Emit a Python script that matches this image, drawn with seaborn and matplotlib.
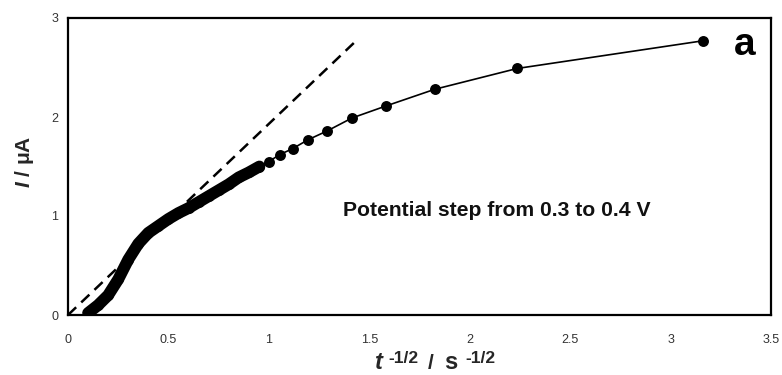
import matplotlib
matplotlib.use("Agg")
import matplotlib.pyplot as plt
import seaborn as sns
import pandas as pd

# ---- data ----
# sparse (well separated) points, t = 0.1 ... 1.1 s
x_sparse = [3.162, 2.236, 1.826, 1.581, 1.414, 1.291, 1.195, 1.118, 1.054, 1.000, 0.953]
i_sparse = [2.77, 2.49, 2.28, 2.11, 1.99, 1.86, 1.77, 1.68, 1.62, 1.55, 1.50]
# dense region (overlapping markers)
x_dense = [0.90, 0.85, 0.80, 0.75, 0.70, 0.65, 0.60, 0.55, 0.50, 0.45, 0.40,
           0.35, 0.30, 0.25, 0.20, 0.15, 0.10]
i_dense = [1.44, 1.39, 1.32, 1.26, 1.20, 1.14, 1.08, 1.03, 0.97, 0.90, 0.83,
           0.72, 0.56, 0.36, 0.20, 0.10, 0.02]
# Cottrell line (dashed)
x_fit = [0.0, 1.445]
i_fit = [0.0, 2.79]

x_ticks = [0, 0.5, 1, 1.5, 2, 2.5, 3, 3.5]
x_ticklabels = ["0", "0.5", "1", "1.5", "2", "2.5", "3", "3.5"]
y_ticks = [0, 1, 2, 3]
y_ticklabels = ["0", "1", "2", "3"]

annotation = "Potential step from 0.3 to 0.4 V"
panel = "a"

# ---- style ----
sns.set_theme(style="white")
plt.rcParams["font.family"] = ["Liberation Sans", "DejaVu Sans"]
plt.rcParams["mathtext.fontset"] = "custom"
plt.rcParams["mathtext.rm"] = "Liberation Sans:bold"
plt.rcParams["mathtext.it"] = "Liberation Sans:bold:italic"
plt.rcParams["mathtext.bf"] = "Liberation Sans:bold"

all_df = pd.DataFrame({"x": x_sparse + x_dense, "I": i_sparse + i_dense})
dense_df = pd.DataFrame({"x": [x_sparse[-1]] + x_dense, "I": [i_sparse[-1]] + i_dense})
fit_df = pd.DataFrame({"x": x_fit, "I": i_fit})

fig = plt.figure(figsize=(7.82, 3.75), dpi=100)
ax = fig.add_axes([68 / 782, 60 / 375, 703 / 782, 297 / 375])

# dashed line
sns.lineplot(data=fit_df, x="x", y="I", ax=ax, color="black", lw=1.8,
             estimator=None, sort=False, zorder=2)
ax.lines[-1].set_dashes((4.5, 2.8))
# thin connecting line
sns.lineplot(data=all_df, x="x", y="I", ax=ax, color="black", lw=1.2,
             estimator=None, sort=False, zorder=3)
# thick band for the dense region
sns.lineplot(data=dense_df, x="x", y="I", ax=ax, color="black", lw=8.5,
             estimator=None, sort=False, zorder=3,
             solid_capstyle="round", solid_joinstyle="round")
# markers
sns.scatterplot(data=all_df, x="x", y="I", ax=ax, color="black", s=62,
                edgecolor="black", linewidth=0, zorder=4)

ax.set_xlim(0, 3.5)
ax.set_ylim(0, 3)
ax.set_xticks(x_ticks)
ax.set_xticklabels(x_ticklabels)
ax.set_yticks(y_ticks)
ax.set_yticklabels(y_ticklabels)
ax.tick_params(axis="x", direction="in", length=3, width=0.8, pad=14,
               labelsize=9, labelcolor="#333333", colors="#333333")
ax.tick_params(axis="y", direction="out", length=3, width=0.8, pad=4,
               labelsize=9, labelcolor="#333333", colors="#333333")
for s in ax.spines.values():
    s.set_color("black")
    s.set_linewidth(1.6)
ax.set_xlabel("")
ax.set_ylabel("")

ax.text(1.369, 1.06, annotation, fontsize=15.2, fontweight="bold",
        ha="left", va="center", color="#111111")
ax.text(3.37, 2.73, panel, fontsize=28, fontweight="bold",
        ha="center", va="center", color="black")

# x label built from pieces: t^-1/2 / s^-1/2
base = 1 - 369 / 375
sup = 1 - 363 / 375
fig.text(375 / 782, base, "t", fontsize=17, fontweight="bold", style="italic",
         ha="left", va="baseline")
fig.text(388 / 782, sup, "-1/2", fontsize=12.5, fontweight="bold",
         ha="left", va="baseline")
fig.text(428 / 782, base, "/", fontsize=15, fontweight="bold",
         ha="left", va="baseline")
fig.text(444 / 782, base, "s", fontsize=17, fontweight="bold",
         ha="left", va="baseline")
fig.text(465 / 782, sup, "-1/2", fontsize=12.5, fontweight="bold",
         ha="left", va="baseline")

fig.text(25 / 782, 1 - 162 / 375, r"$I$ / μA", fontsize=15, fontweight="bold",
         rotation=90, ha="center", va="center")

fig.savefig("out.png", dpi=100)
